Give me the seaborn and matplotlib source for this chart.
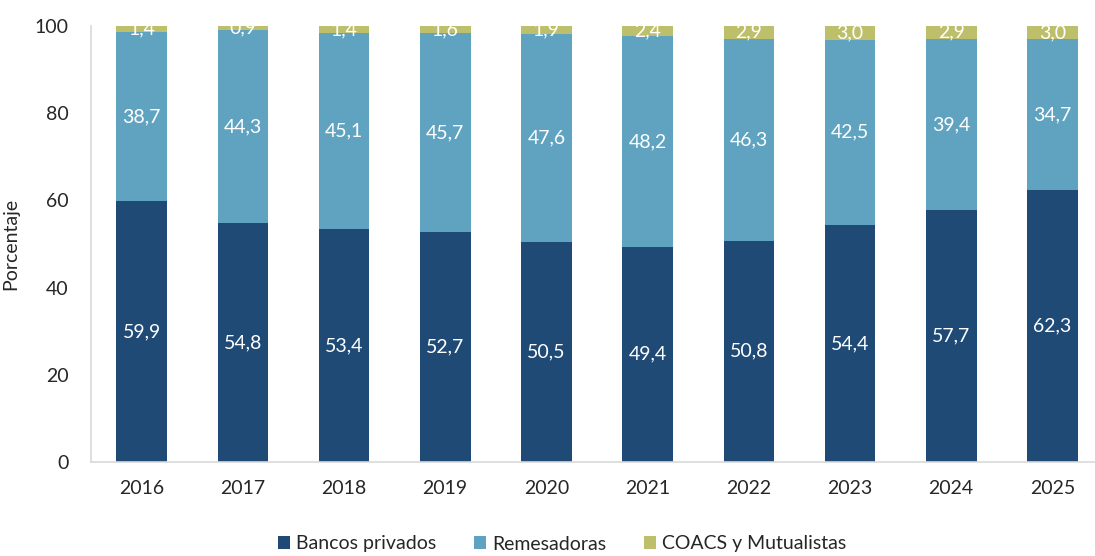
import matplotlib
matplotlib.use("Agg")
import matplotlib.pyplot as plt
import seaborn as sns
import pandas as pd
import numpy as np
from matplotlib.patches import Patch

years = ["2016", "2017", "2018", "2019", "2020", "2021", "2022", "2023", "2024", "2025"]
bancos = [59.9, 54.8, 53.4, 52.7, 50.5, 49.4, 50.8, 54.4, 57.7, 62.3]
remesadoras = [38.7, 44.3, 45.1, 45.7, 47.6, 48.2, 46.3, 42.5, 39.4, 34.7]
coacs = [1.4, 0.9, 1.4, 1.6, 1.9, 2.4, 2.9, 3.0, 2.9, 3.0]
series_names = ["Bancos privados", "Remesadoras", "COACS y Mutualistas"]
colors = ["#1F4A75", "#5FA3C0", "#BDBF6A"]

sns.set_theme(style="white")
plt.rcParams["font.family"] = ["Lato", "DejaVu Sans"]

df = pd.DataFrame({"year": years, "b": bancos, "r": remesadoras, "c": coacs})
df["cum1"] = df["b"]
df["cum2"] = df["b"] + df["r"]
df["cum3"] = df["b"] + df["r"] + df["c"]

fig = plt.figure(figsize=(10.95, 5.56), dpi=100)
ax = fig.add_axes([91/1095, 1-462/556, 1012/1095, 436/556])

for col, colr in zip(["cum3", "cum2", "cum1"], colors[::-1]):
    sns.barplot(data=df, x="year", y=col, color=colr, saturation=1, width=0.5,
                ax=ax, edgecolor="none", linewidth=0, errorbar=None)

def fmt(v):
    return f"{v:.1f}".replace(".", ",")

fs = 14
for i in range(len(years)):
    b, r, c = bancos[i], remesadoras[i], coacs[i]
    ax.text(i, b/2, fmt(b), ha="center", va="center", color="white", fontsize=fs)
    ax.text(i, b + r/2, fmt(r), ha="center", va="center", color="white", fontsize=fs)
    ax.text(i, b + r + c/2, fmt(c), ha="center", va="center", color="white",
            fontsize=fs, clip_on=True)

ax.set_ylim(0, 100)
ax.set_xlim(-0.5, len(years) - 0.5)
ax.set_yticks([0, 20, 40, 60, 80, 100])
ax.tick_params(axis="y", direction="in", length=5, color="#D9D9D9", labelsize=fs, pad=16)
ax.tick_params(axis="x", which="major", length=0, labelsize=fs, pad=13)
ax.set_xticks(np.arange(-0.5, len(years), 1), minor=True)
ax.tick_params(axis="x", which="minor", direction="out", length=5, color="#D9D9D9")
for s in ["top", "right"]:
    ax.spines[s].set_visible(False)
for s in ["left", "bottom"]:
    ax.spines[s].set_color("#D9D9D9")
    ax.spines[s].set_linewidth(1.2)
ax.set_xlabel("")
ax.set_ylabel("Porcentaje", fontsize=14)
ax.yaxis.set_label_coords((19-91)/1012, 0.5)

handles = [Patch(facecolor=c, edgecolor="none") for c in colors]
fig.legend(handles, series_names, loc="center", bbox_to_anchor=(562/1095, 1-544/556),
           ncol=3, frameon=False, fontsize=fs, handlelength=0.62, handleheight=0.62,
           handletextpad=0.3, columnspacing=1.95, borderpad=0.1)

fig.savefig("out.png", dpi=100)
